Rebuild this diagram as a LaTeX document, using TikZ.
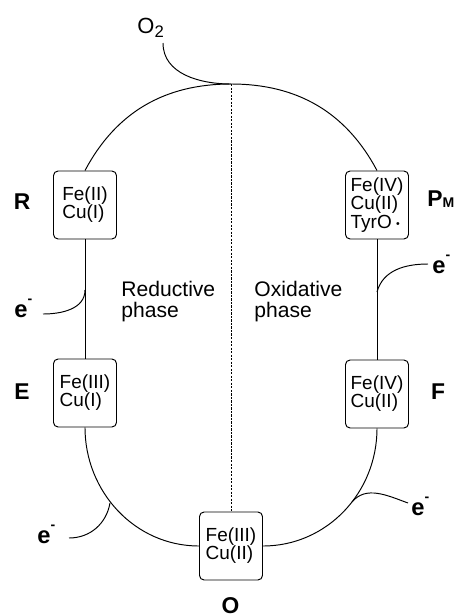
\documentclass[tikz,border=0pt]{standalone}
\usepackage{fontspec}
\setmainfont{Liberation Sans}
\usepackage{tikz}

\begin{document}
\begin{tikzpicture}[x=0.02cm, y=-0.02cm, line width=0.55pt,
	state/.style={draw, rounded corners=2.6pt, minimum width=1.26cm, minimum height=1.36cm,
		inner sep=0pt, align=left, font=\fontsize{10.8}{10.3}\selectfont},
	statename/.style={inner sep=0pt, anchor=base, font=\fontsize{13}{13}\selectfont\bfseries},
	electron/.style={inner sep=0pt, anchor=base west, font=\fontsize{13.5}{14}\selectfont\bfseries},
	phasetext/.style={inner sep=0pt, anchor=north west, align=left, font=\fontsize{12}{12}\selectfont},
	splitline/.style={dash pattern=on 1.3pt off 0.7pt}]

				            \useasboundingbox (0,0) rectangle (461,616);

				            \node[state] (R) at (85,205) {Fe(II)\\Cu(I)};
				            \node[state] (E) at (85,393) {Fe(III)\\Cu(I)};
				            \node[state] (O) at (231,546) {Fe(III)\\Cu(II)};
				            \node[state] (F) at (377,394) {Fe(IV)\\Cu(II)};
				            \node[state] (PM) at (377,205)
				            {Fe(IV)\\Cu(II)\\TyrO\hspace{2.5pt}\raisebox{0.4pt}{\fontsize{6}{6}\selectfont\textbullet}};

				            \node[statename] (Rname) at (22,209) {R};
				            \node[statename] (Ename) at (22,399) {E};
				            \node[statename] (Oname) at (230.5,613) {O};
				            \node[statename] (Fname) at (438,399) {F};
				            \node[statename, anchor=base west] (PMname) at (427,206)
				            {P\raisebox{-0.6pt}{\fontsize{8}{8}\selectfont M}};

				            \coordinate (top) at (231,84);
				            \coordinate (o2foot) at (163,43);
				            \node[inner sep=0pt, anchor=base west, font=\fontsize{12.5}{13}\selectfont] (oxygen) at (137,33)
				            {O\raisebox{-2.3pt}{\fontsize{9.5}{10}\selectfont 2}};

				            \draw (o2foot) to[out=-90, in=180] (top);
				            \draw (R.north) to[out=62, in=180] (top) to[out=0, in=118] (PM.north);
				            \draw (R.south) -- (E.north);
				            \draw (PM.south) -- (F.north);
				            \draw (E.south) to[out=-90, in=180] (O.west);
				            \draw (F.south) to[out=-90, in=0] (O.east);
				            \draw[splitline] (top) -- (O.north);

				            \node[phasetext] (reductive) at (121,281) {Reductive\\phase};
				            \node[phasetext] (oxidative) at (254,281) {Oxidative\\phase};

				            \coordinate (eRfoot) at (85,290);
				            \coordinate (eRtip) at (43,314);
				            \draw (eRfoot) to[out=-90, in=0] (eRtip);
				            \node[electron] (eR) at (14,317) {e\raisebox{7.5pt}{\fontsize{8}{8}\selectfont -}};

				            \coordinate (ePfoot) at (377,292);
				            \coordinate (ePtip) at (428,264);
				            \draw (ePfoot) to[out=75, in=180] (ePtip);
				            \node[electron] (eP) at (432,273) {e\raisebox{7.5pt}{\fontsize{8}{8}\selectfont -}};

				            \coordinate (eEfoot) at (110,503);
				            \coordinate (eEtip) at (69,538);
				            \draw (eEfoot) to[out=-100, in=0] (eEtip);
				            \node[electron] (eE) at (37,543) {e\raisebox{7.5pt}{\fontsize{8}{8}\selectfont -}};

				            \coordinate (eFfoot) at (352,502);
				            \coordinate (eFtip) at (408,503);
				            \draw (eFfoot) to[out=50, in=160] (eFtip);
				            \node[electron] (eF) at (411,515) {e\raisebox{7.5pt}{\fontsize{8}{8}\selectfont -}};
			            \end{tikzpicture}
\end{document}
